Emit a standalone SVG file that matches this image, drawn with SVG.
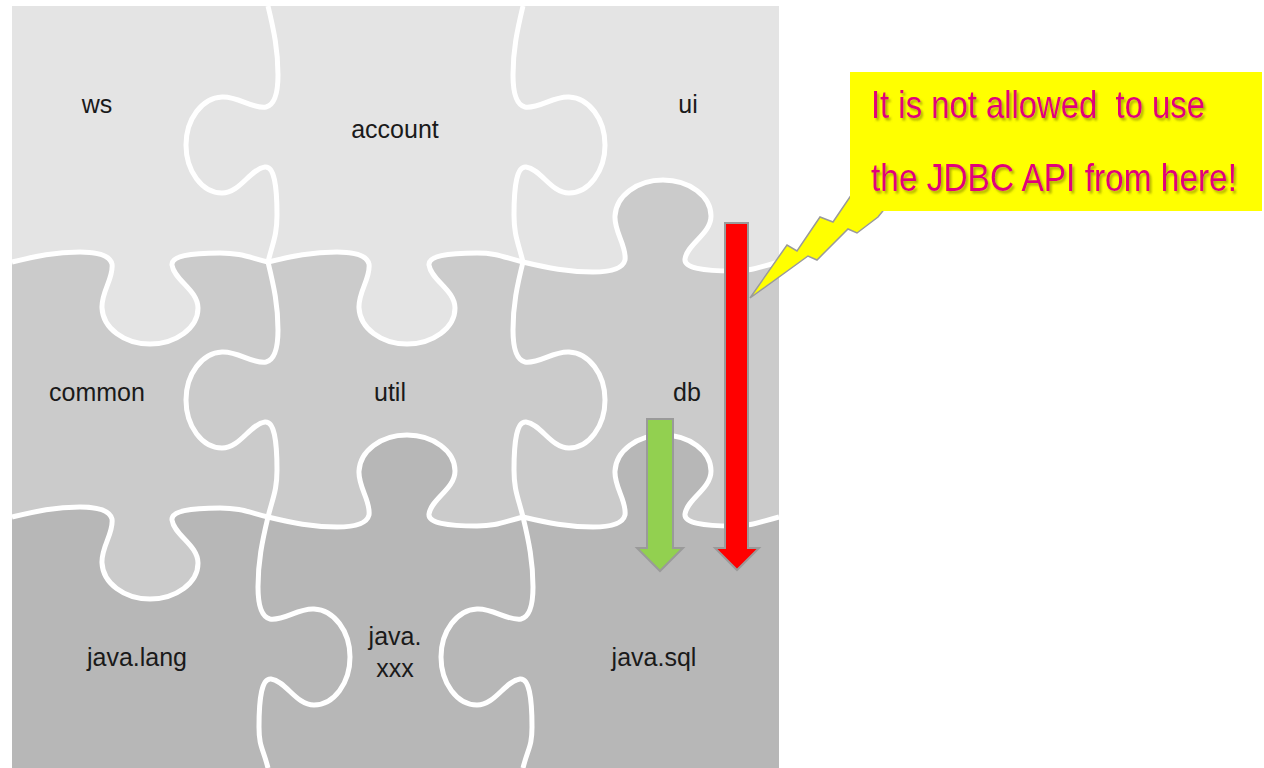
<svg xmlns="http://www.w3.org/2000/svg" width="1264" height="768" viewBox="0 0 1264 768">
<style>
.lbl{font-family:"Liberation Sans",Arial,sans-serif;font-size:25px;fill:#1a1a1a;text-anchor:middle}
.seam{fill:none;stroke:#ffffff;stroke-width:5}
.call{font-family:"Liberation Sans",Arial,sans-serif;font-size:33px;fill:#e2007a}
.arr{stroke:#9a9a9a;stroke-width:2;stroke-linejoin:miter}
</style>
<defs>
<filter id="ts" x="-5%" y="-20%" width="110%" height="150%">
<feDropShadow dx="2" dy="2.5" stdDeviation="1.3" flood-color="#6f6f00" flood-opacity="0.55"/>
</filter>
</defs>
<rect width="1264" height="768" fill="#ffffff"/>
<g id="board">
<rect x="12" y="6" width="767" height="762" fill="#e4e4e4"/>
<path fill="#cbcbcb" d="M12,262 C37,256 55,252 80,252 C98,252 110,256 112,264 C114,278 101,292 102,308 C103,328 124,344 150,344 C176,344 198,328 198,308 C198,290 174,280 172,265 C171,256 190,253 220,253 C240,253 248,257 268,262 C293,256 312,252 337,252 C355,252 367,256 369,264 C371,278 358,292 359,308 C360,328 381,344 407,344 C433,344 455,328 455,308 C455,290 431,280 429,265 C428,256 447,253 477,253 C497,253 503,257 523,262 C548,268 568,272 593,272 C611,272 623,268 625,260 C627,246 614,232 615,216 C616,196 637,180 663,180 C689,180 711,196 711,216 C711,234 687,244 685,259 C684,268 703,271 733,271 C753,271 759,267 779,262 L779,768 L12,768 Z"/>
<path fill="#b7b7b7" d="M12,517 C37,511 55,507 80,507 C98,507 110,511 112,519 C114,533 101,547 102,563 C103,583 124,599 150,599 C176,599 198,583 198,563 C198,545 174,535 172,520 C171,511 190,508 220,508 C240,508 248,512 268,517 C293,523 312,527 337,527 C355,527 367,523 369,515 C371,501 358,487 359,471 C360,451 381,435 407,435 C433,435 455,451 455,471 C455,489 431,499 429,514 C428,523 447,526 477,526 C497,526 503,522 523,517 C548,523 568,527 593,527 C611,527 623,523 625,515 C627,501 614,487 615,471 C616,451 637,435 663,435 C689,435 711,451 711,471 C711,489 687,499 685,514 C684,523 703,526 733,526 C753,526 759,522 779,517 L779,768 L12,768 Z"/>
<path class="seam" d="M12,262 C37,256 55,252 80,252 C98,252 110,256 112,264 C114,278 101,292 102,308 C103,328 124,344 150,344 C176,344 198,328 198,308 C198,290 174,280 172,265 C171,256 190,253 220,253 C240,253 248,257 268,262 C293,256 312,252 337,252 C355,252 367,256 369,264 C371,278 358,292 359,308 C360,328 381,344 407,344 C433,344 455,328 455,308 C455,290 431,280 429,265 C428,256 447,253 477,253 C497,253 503,257 523,262 C548,268 568,272 593,272 C611,272 623,268 625,260 C627,246 614,232 615,216 C616,196 637,180 663,180 C689,180 711,196 711,216 C711,234 687,244 685,259 C684,268 703,271 733,271 C753,271 759,267 779,262"/>
<path class="seam" d="M12,517 C37,511 55,507 80,507 C98,507 110,511 112,519 C114,533 101,547 102,563 C103,583 124,599 150,599 C176,599 198,583 198,563 C198,545 174,535 172,520 C171,511 190,508 220,508 C240,508 248,512 268,517 C293,523 312,527 337,527 C355,527 367,523 369,515 C371,501 358,487 359,471 C360,451 381,435 407,435 C433,435 455,451 455,471 C455,489 431,499 429,514 C428,523 447,526 477,526 C497,526 503,522 523,517 C548,523 568,527 593,527 C611,527 623,523 625,515 C627,501 614,487 615,471 C616,451 637,435 663,435 C689,435 711,451 711,471 C711,489 687,499 685,514 C684,523 703,526 733,526 C753,526 759,522 779,517"/>
<path class="seam" d="M268,6 C274,31 278,50 278,75 C278,93 274,105 266,107 C252,109 238,96 222,97 C202,98 186,119 186,145 C186,171 202,193 222,193 C240,193 250,169 265,167 C274,166 277,185 277,215 C277,235 273,242 268,262 C274,287 278,305 278,330 C278,348 274,360 266,362 C252,364 238,351 222,352 C202,353 186,374 186,400 C186,426 202,448 222,448 C240,448 250,424 265,422 C274,421 277,440 277,470 C277,490 273,497 268,517 C262,542 258,562 258,587 C258,605 262,617 270,619 C284,621 298,608 314,609 C334,610 350,631 350,657 C350,683 334,705 314,705 C296,705 286,681 271,679 C262,678 259,697 259,727 C259,747 263,748 268,768"/>
<path class="seam" d="M523,6 C517,31 513,50 513,75 C513,93 517,105 525,107 C539,109 553,96 569,97 C589,98 605,119 605,145 C605,171 589,193 569,193 C551,193 541,169 526,167 C517,166 514,185 514,215 C514,235 518,242 523,262 C517,286 513,305 513,330 C513,348 517,360 525,362 C539,364 553,351 569,352 C589,353 605,374 605,400 C605,426 589,448 569,448 C551,448 541,424 526,422 C517,421 514,440 514,470 C514,490 518,497 523,517 C529,542 533,562 533,587 C533,605 529,617 521,619 C507,621 493,608 477,609 C457,610 441,631 441,657 C441,683 457,705 477,705 C495,705 505,681 520,679 C529,678 532,697 532,727 C532,747 528,748 523,768"/>
</g>
<g id="piece-ws"><text class="lbl" x="97" y="113">ws</text></g>
<g id="piece-account"><text class="lbl" x="395" y="138">account</text></g>
<g id="piece-ui"><text class="lbl" x="688" y="113">ui</text></g>
<g id="piece-common"><text class="lbl" x="97" y="401">common</text></g>
<g id="piece-util"><text class="lbl" x="390" y="401">util</text></g>
<g id="piece-db"><text class="lbl" x="687" y="401">db</text></g>
<g id="piece-java-lang"><text class="lbl" x="137" y="666">java.lang</text></g>
<g id="piece-java-xxx"><text class="lbl" x="395" y="645">java.</text><text class="lbl" x="395" y="677">xxx</text></g>
<g id="piece-java-sql"><text class="lbl" x="654" y="666">java.sql</text></g>
<g id="connectors">
<path class="arr" fill="#92d050" d="M647,419 H673 V548 H683 L660,571 L637,548 H647 Z"/>
<path class="arr" fill="#ff0000" d="M725,223 H748 V548 H759 L737,570 L715,548 H725 Z"/>
</g>
<g id="callout">
<path fill="#ffff00" stroke="#9a9a9a" stroke-width="1.5" stroke-linejoin="miter" d="M750,298 L787,245 L797,251 L820,217 L833,222 L856,188 L900,190 L878,217 L857,233 L848,229 L817,260 L808,256 Z"/>
<rect x="850" y="72" width="412" height="139" fill="#ffff00"/>
<g filter="url(#ts)">
<text class="call" transform="translate(871,118) scale(1,1.15)" x="0" y="0" textLength="334" lengthAdjust="spacingAndGlyphs" xml:space="preserve">It is not allowed  to use</text>
<text class="call" transform="translate(871,191) scale(1,1.15)" x="0" y="0" textLength="366" lengthAdjust="spacingAndGlyphs">the JDBC API from here!</text>
</g>
</g>
</svg>
